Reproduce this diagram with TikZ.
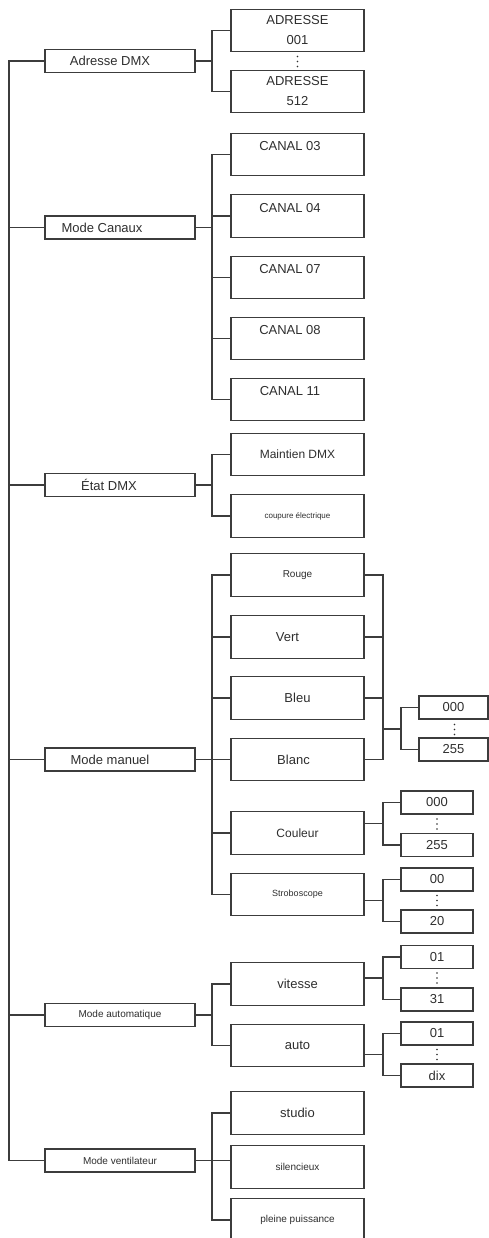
\documentclass[tikz,border=0pt]{standalone}
\usepackage{fontspec}
\setmainfont{Liberation Sans}

\definecolor{linegray}{HTML}{3C3C3C}
\definecolor{textgray}{HTML}{2E2E2E}

\newcommand*{\spinex}{9}
\newcommand*{\brxa}{212}
\newcommand*{\brxb}{383}
\newcommand*{\brxc}{401}
\newcommand*{\subx}{297.5}
\newcommand*{\valx}{437}
\newcommand*{\sizea}{\fontsize{13}{20}\selectfont}
\newcommand*{\sizeb}{\fontsize{10}{12}\selectfont}
\newcommand*{\sizec}{\fontsize{8}{10}\selectfont}
% three dots between two value boxes
\newcommand*{\vdotsat}[1]{\fill[textgray] (#1) ++(0,-5) circle (0.9pt) ++(0,5) circle (0.9pt) ++(0,5) circle (0.9pt);}

\begin{document}
\begin{tikzpicture}
[
	x=1pt, y=-1pt,
	every node/.style={text=textgray},
	menubox/.style={draw=linegray,line width=1.3pt,inner sep=0pt,minimum width=150pt,minimum height=23pt,font=\sizea},
	subbox/.style={draw=linegray,line width=1.3pt,inner sep=0pt,minimum width=133pt,minimum height=42.5pt,font=\sizea},
	topbox/.style={subbox,text height=9.5pt,text depth=17pt,textleft=15pt},
	valbox/.style={draw=linegray,line width=1.3pt,inner sep=0pt,minimum width=72pt,minimum height=23pt,font=\sizea},
	textleft/.style={execute at begin node={\hspace*{-#1}}},
	link/.style={draw=linegray,line width=1.3pt}
]

	\useasboundingbox (0,0) rectangle (489,1238);

	% main menu
	\node[menubox,textleft=20pt] (adr) at (120,61) {Adresse DMX};
	\node[menubox,textleft=36pt] (canaux) at (120,227.5) {Mode Canaux};
	\node[menubox,textleft=22pt] (etat) at (120,485) {État DMX};
	\node[menubox,textleft=20pt] (manuel) at (120,759.5) {Mode manuel};
	\node[menubox,font=\sizeb] (automat) at (120,1015) {Mode automatique};
	\node[menubox,font=\sizeb] (ventil) at (120,1160.5) {Mode ventilateur};

	% spine
	\coordinate (spine) at (\spinex,600);
	\draw[link] (adr.west) -| (spine) |- (ventil.west);
	\draw[link] (canaux.west) -- (canaux.west -| spine);
	\draw[link] (etat.west) -- (etat.west -| spine);
	\draw[link] (manuel.west) -- (manuel.west -| spine);
	\draw[link] (automat.west) -- (automat.west -| spine);

	% adresse
	\node[subbox,align=center] (adr1) at (\subx,30.5) {ADRESSE\\001};
	\node[subbox,align=center] (adr2) at (\subx,91.5) {ADRESSE\\512};
	\coordinate (adrdots) at (\subx,61.5);
	\vdotsat{adrdots}
	\coordinate (adrj) at (\brxa,61);
	\draw[link] (adr.east) -- (adrj);
	\draw[link] (adr1.west) -| (adrj) |- (adr2.west);

	% canaux
	\node[topbox] (can1) at (\subx,154.5) {CANAL 03};
	\node[topbox] (can2) at (\subx,216) {CANAL 04};
	\node[topbox] (can3) at (\subx,277.5) {CANAL 07};
	\node[topbox] (can4) at (\subx,338.5) {CANAL 08};
	\node[topbox] (can5) at (\subx,399.5) {CANAL 11};
	\coordinate (canj) at (\brxa,277);
	\draw[link] (can1.west) -| (canj) |- (can5.west);
	\draw[link] (canaux.east) -- (canaux.east -| canj);
	\draw[link] (can2.west) -- (can2.west -| canj);
	\draw[link] (can3.west) -- (can3.west -| canj);
	\draw[link] (can4.west) -- (can4.west -| canj);

	% etat
	\node[subbox,font=\fontsize{12}{14}\selectfont] (maint) at (\subx,454.5) {Maintien DMX};
	\node[subbox,font=\sizec] (coupure) at (\subx,516) {coupure électrique};
	\coordinate (etatj) at (\brxa,485);
	\draw[link] (etat.east) -- (etatj);
	\draw[link] (maint.west) -| (etatj) |- (coupure.west);

	% manuel
	\node[subbox,font=\sizeb] (rouge) at (\subx,575) {Rouge};
	\node[subbox,textleft=20pt] (vert) at (\subx,637) {Vert};
	\node[subbox] (bleu) at (\subx,698) {Bleu};
	\node[subbox,textleft=8pt] (blanc) at (\subx,759.5) {Blanc};
	\node[subbox,font=\fontsize{12}{14}\selectfont] (couleur) at (\subx,833) {Couleur};
	\node[subbox,font=\fontsize{9}{11}\selectfont] (strobo) at (\subx,894.5) {Stroboscope};
	\coordinate (manj) at (\brxa,700);
	\draw[link] (rouge.west) -| (manj) |- (strobo.west);
	\draw[link] (manuel.east) -- (manuel.east -| manj);
	\draw[link] (vert.west) -- (vert.west -| manj);
	\draw[link] (bleu.west) -- (bleu.west -| manj);
	\draw[link] (blanc.west) -- (blanc.west -| manj);
	\draw[link] (couleur.west) -- (couleur.west -| manj);
	%
	\coordinate (rgbj) at (\brxb,729);
	\coordinate (rgbv) at (\brxc,729);
	\draw[link] (rouge.east) -| (rgbj) |- (blanc.east);
	\draw[link] (vert.east) -- (vert.east -| rgbj);
	\draw[link] (bleu.east) -- (bleu.east -| rgbj);
	\draw[link] (rgbj) -- (rgbv);
	\node[valbox,minimum width=69pt] (rgblo) at (453.5,707.5) {000};
	\node[valbox,minimum width=69pt] (rgbhi) at (453.5,749.5) {255};
	\coordinate (rgbdots) at (454.5,729.5);
	\vdotsat{rgbdots}
	\draw[link] (rgblo.west) -| (rgbv) |- (rgbhi.west);
	%
	\node[valbox] (coullo) at (\valx,802.5) {000};
	\node[valbox] (coulhi) at (\valx,845) {255};
	\coordinate (couldots) at (\valx,824);
	\vdotsat{couldots}
	\coordinate (coulj) at (\brxb,823.5);
	\draw[link] (couleur.east |- coulj) -- (coulj);
	\draw[link] (coullo.west) -| (coulj) |- (coulhi.west);
	%
	\node[valbox] (strlo) at (\valx,879.5) {00};
	\node[valbox] (strhi) at (\valx,921.5) {20};
	\coordinate (strdots) at (\valx,900.5);
	\vdotsat{strdots}
	\coordinate (strj) at (\brxb,900.5);
	\draw[link] (strobo.east |- strj) -- (strj);
	\draw[link] (strlo.west) -| (strj) |- (strhi.west);

	% automatique
	\node[subbox] (vitesse) at (\subx,984) {vitesse};
	\node[subbox] (autob) at (\subx,1045.5) {auto};
	\coordinate (autj) at (\brxa,1015);
	\draw[link] (automat.east) -- (autj);
	\draw[link] (vitesse.west) -| (autj) |- (autob.west);
	%
	\node[valbox] (vitlo) at (\valx,957) {01};
	\node[valbox] (vithi) at (\valx,999.5) {31};
	\coordinate (vitdots) at (\valx,978);
	\vdotsat{vitdots}
	\coordinate (vitj) at (\brxb,978);
	\draw[link] (vitesse.east |- vitj) -- (vitj);
	\draw[link] (vitlo.west) -| (vitj) |- (vithi.west);
	%
	\node[valbox] (autlo) at (\valx,1033.5) {01};
	\node[valbox] (authi) at (\valx,1075.5) {dix};
	\coordinate (autdots) at (\valx,1054.5);
	\vdotsat{autdots}
	\coordinate (autvj) at (\brxb,1054.5);
	\draw[link] (autob.east |- autvj) -- (autvj);
	\draw[link] (autlo.west) -| (autvj) |- (authi.west);

	% ventilateur
	\node[subbox] (studio) at (\subx,1113) {studio};
	\node[subbox,font=\sizeb] (silenc) at (\subx,1167) {silencieux};
	\node[subbox,font=\sizeb] (pleine) at (\subx,1220) {pleine puissance};
	\coordinate (ventj) at (\brxa,1161);
	\draw[link] (studio.west) -| (ventj) |- (pleine.west);
	\draw[link] (ventil.east) -- (silenc.west |- ventil.east);

\end{tikzpicture}
\end{document}
